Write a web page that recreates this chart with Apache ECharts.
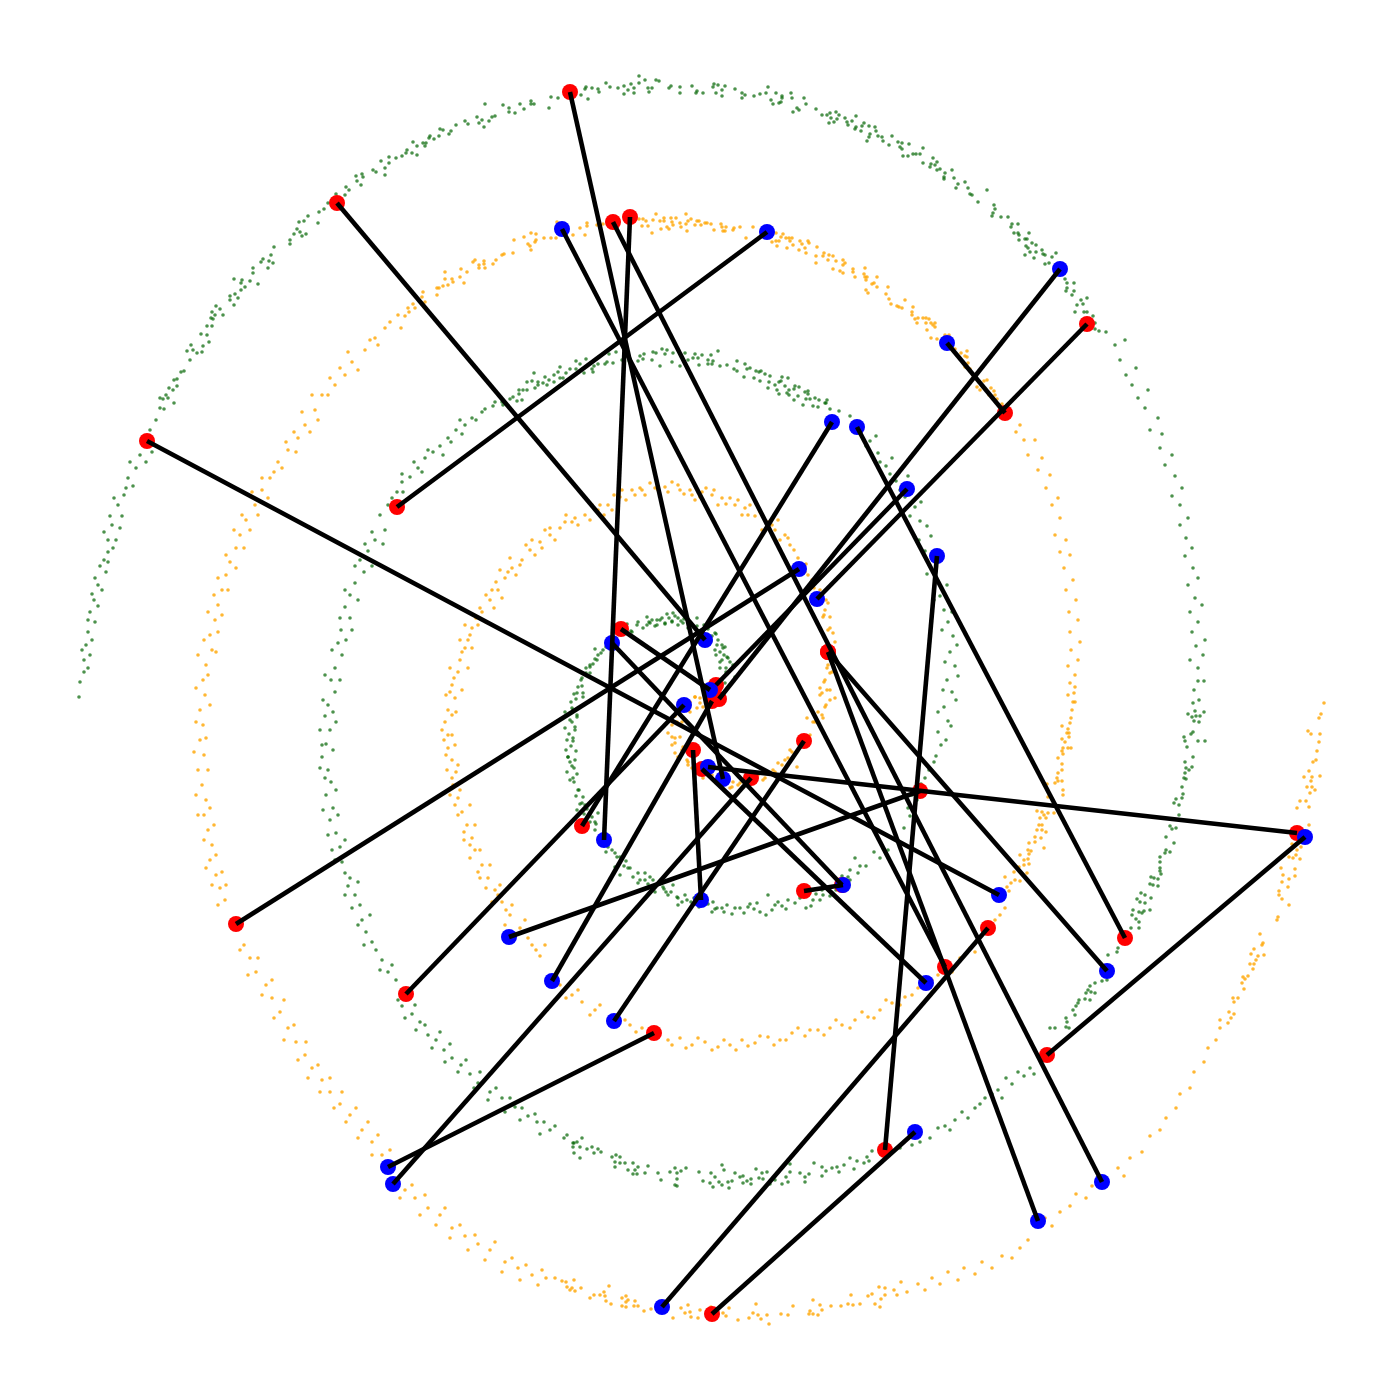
<!DOCTYPE html>
<html>
<head>
<meta charset="utf-8">
<title>spirals</title>
<script src="https://cdn.jsdelivr.net/npm/echarts@6/dist/echarts.min.js"></script>
<style>
  html, body { margin: 0; padding: 0; background: #fff; }
  #chart { width: 1400px; height: 1400px; }
</style>
</head>
<body>
<div id="chart"></div>
<script>
// values, in picture units (0-1400 on both axes)
const greenInner = [
  [715,690],[722,680],[726,672],[720,662],[716,655],[727,657],[723,648],[717,645],[711,641],[716,634],[708,629],[701,631],[697,626],[690,623],[684,619],[678,625],[672,621],[665,624],[660,620],[655,626],[649,622],[643,628],[637,625],[631,631],[627,624],
  [616,638],[606,647],[601,653],[595,659],[590,667],[586,673],[581,680],[578,687],[583,693],[576,699],[572,708],[577,715],[570,720],[575,727],[569,734],[573,741],[576,751],[568,757],[572,766],[577,774],[574,782],[579,790],[583,797],[580,804],[587,809],[592,817],[596,824],[606,834],
  [612,850],[617,857],[626,861],[630,868],[638,873],[645,880],[650,877],[656,885],[664,889],[671,892],[678,898],[685,895],[691,902],[699,907],[708,904],[715,909],[724,912],[735,908],[744,913],[754,909],[766,915],[775,905],[786,909],[795,903],[811,906],[820,900],[830,896],[836,890],[850,880],[858,873],[866,866],[880,858],[888,850],[896,840],[904,828],[910,816],
  [638,622],[647,617],[657,620],[667,614],[673,613],[678,618],[647,625],[650,623],[657,625],[665,623],[672,622],[683,623],[688,628],[697,618],[715,633],[722,645],[715,650],[720,652],[725,647],[728,658],[722,660],[720,668],[733,665],[735,677],[725,683],[632,632],[603,650],[595,649],[597,660],[590,665],[590,673],[582,678],[577,693],[583,697],[573,710],[565,712],[577,717],[575,730],[567,740],[573,738],[568,757],[575,760],[567,772],[573,778],[578,790],[582,803],[585,805],[577,810],[598,813],[595,822],[595,830],[608,847],[615,853],[620,857],[615,867],[628,868],[620,875],[633,877],[645,873],[638,883],[653,880],[663,887],[673,885],[655,892],[668,895],[677,897],[687,900],[678,905],[713,902],[727,905],[717,908],[740,908],[748,907],[757,903],[768,895],[778,902],[788,900],[822,890],[813,900],[823,895],[837,880],[850,870],[855,858],[848,877],
  [652,620],[662,618],[669,618],[675,616],[681,621],[692,625],[704,625],[712,636],[718,640],[724,655],[730,662],[726,668],[610,642],[598,655],[593,664],[586,668],[582,686],[574,694],[571,702],[567,715],[572,722],[565,728],[571,746],[566,750],[570,762],[574,768],[570,780],[576,796],[584,814],[590,822],[600,840],[606,852],[624,866],[640,880],[648,884],[660,884],[666,892],[682,902],[694,898],[705,900],[712,912],[722,908],[732,914],[750,904],[760,912],[772,910],[782,906],[800,898],[806,908],[816,894],[828,888],[842,876],[860,866],[874,852]
];
const greenMiddle = [
  [908,808],[917,800],[921,784],[929,770],[936,756],[941,745],[938,732],[948,721],[944,707],[952,692],[947,680],[955,666],[950,652],[953,636],[948,622],[944,610],[940,596],[935,580],[930,566],[925,551],[931,536],[920,521],[915,507],[905,497],[896,481],[886,466],[878,453],[870,441],[861,427],[850,416],[839,411],[826,403],[815,398],[805,392],[795,386],[781,381],[770,376],[759,372],
  [912,795],[925,778],[934,762],[946,740],[951,726],[938,712],[956,700],[943,690],[958,676],[945,662],[957,645],[942,630],[952,612],[934,600],[947,585],[927,574],[937,556],[919,540],[927,526],[910,516],[921,502],[900,490],[908,476],[890,474],[880,462],[892,458],[866,446],[876,436],
  [750,368],[756,371],[761,371],[765,374],[754,378],[760,381],[769,382],[775,385],[782,377],[788,378],[779,382],[785,386],[768,388],[777,390],[789,390],[794,389],[799,387],[808,391],[779,394],[787,393],[789,395],[798,396],[808,394],[794,400],[806,399],[810,399],[819,400],[827,400],[825,403],[803,405],[813,406],[818,407],[830,409],
  [718,351],[653,352],[662,349],[667,350],[656,353],[644,354],[640,356],[665,354],[673,353],[685,353],[695,354],[702,355],[711,355],[688,360],[693,358],[698,358],[708,360],[713,361],[699,365],[708,364],[712,364],[720,366],[727,365],[737,361],[745,364],[734,369],[737,371],[747,369],[744,377],[680,366],[672,362],[660,366],[652,360],[643,359],[638,361],[629,361],[622,360],[616,352],[609,354],[613,363],[607,362],[605,364],[598,364],[594,366],[586,359],[592,369],[593,372],[584,373],[576,361],[580,364],[576,369],[570,369],[566,373],[560,367],[554,375],[558,372],[534,373],[545,377],[549,380],[560,378],[563,378],[554,382],[527,382],[532,381],[538,382],[543,383],[547,385],[538,385],[535,388],[527,390],[523,390],[519,390],[519,394],[513,397],[510,399],[517,401],[522,400],[495,402],[502,402],[503,405],[493,406],[508,406],[485,409],
  [482,412],[472,418],[465,425],[456,430],[448,438],[440,446],[433,452],[425,458],[418,468],[410,477],[402,482],[397,492],[388,505],[380,515],[385,530],[375,540],[368,551],[360,560],[364,572],[355,583],[350,595],[345,607],[350,618],[341,630],[338,643],[342,655],[335,668],[331,680],[335,692],[328,705],[325,716],[330,730],[326,744],[322,757],[328,770],[331,782],[326,795],[333,808],[330,820],[336,833],[340,847],[335,860],[345,873],[348,886],[355,895],[352,908],[362,920],[366,932],[372,942],[382,960],[388,972],[396,980],[402,1006],[412,1014],[420,1022],[428,1035],[436,1040],[444,1050],[452,1058],[461,1065],[470,1074],[478,1083],[490,1092],[502,1098],[515,1107],[528,1116],[537,1122],[550,1130],
  [476,420],[460,420],[451,442],[462,434],[443,455],[428,450],[422,472],[414,462],[402,474],[392,498],[403,492],[372,532],[383,544],[365,544],[372,566],[355,566],[345,590],[358,600],[352,630],[340,618],[332,650],[346,640],[325,675],[340,680],[323,700],[333,712],[320,730],[336,722],[322,745],[333,750],[325,778],[320,768],[336,790],[323,810],[338,815],[328,835],[345,840],[332,850],[342,862],[350,878],[358,882],[345,895],[360,905],[370,915],[358,925],[376,950],[364,945],[380,970],[392,965],[398,1000],[415,1005],[405,1018],[425,1025],[416,1030],[440,1032],[432,1048],[450,1044],[445,1062],[466,1060],[458,1072],[480,1072],[474,1088],[496,1088],[488,1100],[510,1098],[505,1112],[522,1108],[520,1120],[535,1114],[544,1122],[540,1134],[555,1126],
  [574,1143],[567,1135],[564,1138],[573,1143],[577,1142],[582,1138],[573,1147],[580,1147],[574,1153],[580,1158],[587,1149],[592,1147],[594,1153],[598,1149],[601,1152],[612,1157],[616,1155],[620,1157],[615,1162],[620,1163],[615,1167],[625,1163],[628,1170],[633,1163],[635,1170],[633,1174],[637,1174],[638,1167],[645,1173],[648,1166],[658,1173],[661,1180],[670,1172],[675,1168],[677,1173],[677,1179],[675,1185],[677,1186],[681,1171],[686,1168],[699,1172],[703,1181],[711,1173],[710,1183],[713,1187],[715,1177],[719,1182],[722,1165],[724,1170],[722,1185],[729,1188],[728,1182],[732,1181],[735,1173],[740,1177],[743,1176],[743,1183],[747,1181],[751,1179],[751,1184],[756,1169],[759,1178],[762,1173],[767,1172],[763,1179],[770,1184],[775,1180],[782,1184],[786,1177],[790,1164],[790,1172],[788,1182],[800,1173],[805,1177],[809,1174],[805,1182],[814,1163],[822,1167],[826,1171],[822,1176],[832,1168],[837,1167],[839,1172],[844,1165],[850,1158],[854,1169],[857,1161],[864,1163],[867,1157],[869,1161],[872,1151]
];
const greenOuter = [
  [900,1148],[912,1145],[930,1138],[945,1126],[955,1120],[975,1108],[985,1098],[998,1090],[1006,1078],[1018,1072],[1030,1068],[1040,1058],[920,1142],[938,1128],[950,1130],[962,1112],[968,1118],[980,1104],[992,1094],[1002,1098],[1012,1084],[1024,1076],[1034,1074],[1044,1050],
  [1050,1028],[1055,1028],[1066,1027],[1069,1028],[1066,1018],[1067,1022],[1073,1010],[1075,1015],[1076,1006],[1078,1003],[1079,1000],[1085,999],[1090,1000],[1086,993],[1091,992],[1095,993],[1088,990],[1090,986],[1095,983],[1102,981],[1107,980],[1108,955],[1117,952],[1118,948],[1131,928],[1139,928],[1139,922],[1136,919],[1132,915],[1142,913],[1139,912],[1144,911],[1133,910],[1150,910],[1145,903],[1140,902],[1137,899],[1151,898],[1145,895],[1141,893],[1158,886],[1153,885],[1150,884],[1158,879],[1154,878],[1151,877],[1161,874],[1160,871],[1160,868],[1160,862],[1160,857],[1165,853],[1170,852],[1166,850],[1174,843],[1166,837],[1176,828],[1172,829],[1170,826],[1179,815],[1179,805],[1174,803],[1176,799],[1182,798],[1183,794],[1182,787],[1186,779],[1184,778],[1185,773],[1189,770],[1186,768],[1192,767],[1185,762],[1193,757],[1187,747],[1205,741],[1198,741],[1185,741],[1184,737],[1191,734],[1193,732],[1199,722],[1194,721],[1192,717],[1200,716],[1196,716],[1188,714],[1204,712],[1195,711],[1193,703],[1199,700],[1194,690],[1204,681],[1198,681],
  [1198,668],[1190,660],[1203,655],[1196,646],[1205,640],[1192,632],[1198,622],[1190,612],[1202,605],[1195,598],[1188,585],[1198,578],[1193,568],[1185,556],[1192,548],[1186,538],[1180,525],[1188,518],[1180,505],[1172,496],[1182,488],[1175,476],[1165,465],[1172,455],[1160,448],[1162,434],[1150,430],[1158,418],[1145,408],[1138,398],[1148,390],[1132,385],[1126,375],[1136,368],[1120,360],[1115,345],[1125,340],[1106,332],[1099,331],[1095,329],[1095,323],[1093,316],[1087,312],[1084,312],[1075,312],[1077,305],[1083,304],[1081,300],[1087,298],[1072,295],[1066,291],[1074,291],[1067,288],[1074,283],[1067,283],[1065,279],
  [1049,263],[1045,264],[1052,257],[1056,253],[1045,255],[1043,254],[1034,258],[1025,255],[1042,250],[1036,252],[1030,252],[1028,248],[1036,245],[1026,246],[1032,243],[1027,239],[1025,239],[1019,240],[1019,235],[1029,233],[1018,233],[1014,233],[1011,227],[1012,224],[1018,224],[1008,217],[1001,217],[992,216],[993,213],[995,209],[994,205],[978,202],[972,195],[970,194],[987,190],[968,188],[956,188],[958,184],[965,182],[954,178],[944,179],[944,177],[952,170],[945,173],[940,169],[937,170],[930,167],[935,165],[937,162],[931,164],[923,163],[933,158],[920,154],[916,154],[913,154],[908,156],[903,156],[923,148],[902,149],[900,147],[909,144],[902,143],[898,142],[889,145],[883,141],[892,136],[867,141],[869,137],[882,137],[878,136],[876,131],[870,134],[875,127],[869,126],[861,131],[855,129],[856,127],[848,125],[864,123],[862,126],[852,121],[847,122],[856,116],[845,118],[829,123],[834,122],[831,118],[837,119],[839,115],[836,112],[830,113],[827,115],[822,115],[816,109],[799,110],[797,108],[793,112],[806,104],[804,98],[792,98],[791,93],[782,98],[782,96],[781,102],[779,103],[773,104],[771,100],[776,93],[766,93],[760,94],[754,96],[768,87],
  [745,95],[742,98],[742,93],[735,89],[722,96],[716,93],[722,90],[713,87],[725,86],[718,85],[714,84],[703,93],[696,93],[697,91],[692,86],[680,93],[680,87],[669,88],[671,86],[649,92],[634,93],[624,94],[628,90],[652,88],[648,88],[634,88],[618,88],[610,87],[624,86],[639,83],[631,84],[606,83],[659,81],[656,80],[645,80],[639,76],[599,92],[598,89],[592,88],[586,87],[585,89],[581,95],[588,99],[558,98],[551,97],[549,108],[534,104],[531,104],[531,101],[524,109],[520,104],[515,113],[509,112],[509,108],[503,105],[495,116],[492,117],[489,121],[485,104],[484,127],[482,120],[479,123],[477,117],[468,124],[465,121],[456,125],[451,131],[449,134],[443,130],[440,129],[439,136],[434,139],[430,136],[429,138],[426,143],[423,143],[425,146],[417,146],[413,142],[417,155],[412,153],[407,150],[406,153],[402,156],
  [396,158],[389,157],[389,163],[381,161],[385,168],[373,170],[376,172],[385,175],[362,174],[356,176],[363,177],[357,181],[361,185],[346,187],[349,190],[345,195],[336,194],[328,203],[324,209],[319,212],[308,216],[304,221],[299,222],[318,223],[297,229],[294,234],[300,232],[306,234],[302,236],[290,240],[290,244],[274,247],[271,255],[263,259],[261,262],[269,261],[273,263],[268,268],[253,268],[253,273],[234,279],[242,280],[250,281],[241,283],[258,284],[245,287],[241,290],[235,294],[230,296],[238,298],[230,300],[234,305],[216,306],[220,309],[212,312],[223,315],[215,315],[211,318],[213,319],[207,326],[212,326],[201,334],[207,335],[209,342],[191,345],[203,346],[193,350],[187,351],[197,353],[202,352],[190,360],[184,371],[181,372],[177,379],[174,380],[177,386],[169,388],[173,390],[166,395],[160,398],[168,398],[163,399],[174,403],[160,408],[164,409],
  [156,420],[150,430],[152,452],[140,455],[136,468],[128,478],[133,486],[124,495],[118,505],[122,516],[112,525],[108,540],[113,548],[104,560],[106,572],[98,585],[94,600],[90,612],[95,622],[88,632],[86,645],[84,660],[88,668],[80,682],[79,697],[146,462],[130,462],[126,488],[114,498],[110,516],[120,528],[104,532],[116,540],[108,552],[100,566],[108,562],[95,578],[102,590],[92,594],[98,606],[88,620],[92,640],[82,650],[90,655],[84,672]
];
const orangeInner = [
  [715,698],[708,700],[700,703],[695,697],[688,702],[690,712],[680,708],[675,716],[682,722],[672,725],[668,733],[675,738],[672,745],[682,750],[678,757],[688,762],[692,768],[700,772],[712,775],[722,782],[730,788],[738,785],[745,782],[758,775],[765,778],[775,772],[782,765],[788,758],[792,752],[800,745],[810,735],[815,722],[822,715],[826,705],[820,695],[830,690],[824,682],[832,672],[828,665],[826,640],[830,628],[824,615],[826,600],
  [695,697],[700,698],[690,702],[703,707],[697,708],[688,710],[677,722],[672,737],[680,737],[675,743],[683,747],[675,753],[687,760],[688,765],[697,767],[703,778],[733,782],[740,783],[732,787],[763,780],[773,770],[778,763],[785,760],[790,750],[797,767],[807,718],[813,722],[823,718],[818,712],[825,707],[830,700],[822,693],[835,698],[827,690],[820,688],[825,680],[830,673],[827,668],[833,633],[828,630],[835,642],[823,617],[830,617],[825,610],[828,603],
  [820,590],[812,580],[805,572],[798,558],[790,545],[785,535],[775,530],[768,522],[755,516],[745,508],[735,505],[722,498],[712,495],[700,497],[690,490],[678,485],[668,492],[655,488],[645,495],[632,490],[620,497],[608,505],[598,510],[585,515],[572,522],[560,528],[550,535],[540,542],[530,550],[522,560],[512,568],[505,578],[498,590],[490,600],[482,612],[478,625],[470,635],[465,648],[460,660],[458,672],[452,685],[455,698],[448,710],[445,722],[452,735],[448,748],[452,760],[456,772],[453,785],[458,798],[462,812],[467,825],[472,838],[475,850],[482,865],[488,878],[495,890],[502,902],[510,915],[520,928],[532,945],[540,956],
  [814,588],[806,564],[794,550],[780,540],[778,520],[762,530],[750,505],[742,515],[730,498],[718,505],[706,488],[695,500],[684,494],[672,482],[660,496],[650,483],[640,488],[626,500],[614,495],[604,515],[592,505],[578,525],[566,515],[555,540],[545,530],[535,555],[526,545],[516,575],[510,558],[500,570],[492,590],[502,598],[486,595],[476,618],[486,622],[465,625],[472,648],[460,640],[468,668],[450,668],[462,690],[446,695],[456,712],[442,730],[455,745],[444,740],[458,765],[447,770],[460,790],[450,795],[470,805],[458,815],[475,825],[464,840],[480,850],[470,858],[490,865],[480,878],[500,885],[492,902],[512,905],[505,925],[525,920],[528,938],[545,945],
  [816,600],[808,575],[800,565],[788,538],[772,525],[760,512],[748,515],[738,500],[726,504],[714,490],[702,492],[692,495],[680,490],[665,487],[658,490],[642,490],[635,495],[622,490],[612,510],[600,505],[590,520],[575,518],[565,522],[550,528],[542,548],[532,540],[520,565],[508,572],[496,582],[494,608],[480,608],[472,628],[468,640],[462,652],[454,678],[450,692],[452,715],[448,735],[446,755],[452,778],[455,805],[464,832],[470,845],[478,872],[486,888],[498,895],[506,910],[515,935],[536,950],
  [560,985],[572,995],[582,1002],[595,1010],[630,1025],[642,1028],[668,1040],[680,1038],[692,1045],[705,1042],[718,1047],[730,1045],[742,1040],[755,1043],[768,1037],[780,1040],[792,1033],[805,1036],[818,1030],[830,1028],[842,1025],[855,1020],[868,1017],[880,1010],[892,1003],[905,997],[918,988],[932,980],[960,958],[970,948],[978,938],[995,920],[1005,908],
  [566,998],[578,990],[590,1015],[600,1005],[625,1020],[636,1032],[650,1030],[672,1045],[686,1048],[698,1038],[712,1050],[724,1040],[736,1050],[748,1046],[760,1036],[774,1045],[786,1040],[798,1028],[810,1030],[824,1035],[836,1020],[850,1028],[862,1012],[874,1018],[886,1000],[900,1005],[912,995],[925,985],[938,975],[952,972],[965,955],[975,952],[985,932],[1000,915],
  [1009,891],[1007,887],[1011,883],[1020,881],[1015,880],[1005,877],[1027,873],[1014,872],[1019,867],[1024,865],[1029,864],[1028,859],[1024,860],[1029,854],[1020,855],[1031,851],[1028,850],[1044,848],[1029,843],[1035,842],[1041,838],[1035,837],[1046,832],[1042,830],[1037,830],[1042,825],[1039,825],[1046,818],[1040,818],[1044,815],[1048,813],[1042,812],[1037,811],[1054,813],[1052,799],[1048,797],[1063,795],[1063,790],[1047,784],[1055,783],[1058,781],[1062,781],[1057,778],[1058,773],[1062,770],[1062,764],[1058,758],[1063,754],[1062,751],[1071,748],[1068,748],[1063,748],[1065,742],[1069,737],[1062,739],[1069,733],[1067,733],[1068,729],[1070,723],[1062,726],[1071,718],[1072,710],[1075,702],[1073,702],[1068,695],[1074,693],[1075,687],[1070,683],
  [1075,675],[1068,666],[1078,660],[1071,650],[1080,642],[1070,632],[1078,620],[1069,612],[1076,600],[1066,590],[1073,580],[1064,568],[1070,555],[1060,552],[1066,540],[1055,535],[1060,518],[1052,505],[1058,498],[1046,488],[1050,475],[1038,470],[1042,458],[1028,455],[1035,440],[1024,440],[1020,425],[1016,432],[1002,404],[997,399],[995,395],[989,395],[994,391],[991,388],[980,390],[977,387],[987,380],[984,381],[973,375],[970,369],[965,367],[968,363],[967,357],[965,356],[961,353],[967,351],[955,349],[949,335],[945,335],[937,339],[931,338],[927,330],[935,327],[935,323],[933,325],[931,323],[926,323],[917,323],[929,319],[926,318],[923,318],[918,318],[915,319],[912,315],[912,312],[913,307],[902,308],[899,307],[897,306],[891,304],[905,300],[889,299],[886,294],[868,293],[866,290],[888,287],[877,287],[872,284],[874,283],[866,280],[877,277],[867,277],[865,277],[855,277],[864,274],[853,272],[843,273],[840,271],[833,269],[853,269],[865,268],[843,265],[845,263],[843,260],[836,261],[816,263],[828,260],[833,256],[829,255],[823,256],[824,253],[816,256],[817,247],[806,253],[799,250],[805,248],[809,243],[808,241],[802,244],[800,241],[793,245],[787,248],[777,246],[792,238],[790,241],[789,238],[786,238],[781,237],[783,234],[779,241],[776,241],[772,242],[776,233],[753,227],
  [746,238],[740,227],[734,228],[733,230],[726,227],[725,231],[723,231],[722,227],[721,224],[714,230],[711,224],[707,223],[705,223],[701,225],[699,221],[697,221],[695,225],[691,219],[688,221],[687,231],[686,224],[686,214],[681,227],[680,223],[676,218],[673,225],[672,222],[671,218],[669,229],[667,227],[664,221],[664,218],[661,229],[660,221],[656,214],[653,220],[652,233],[648,226],[646,221],[643,219],[642,226],[639,219],[603,224],[597,225],[587,226],[587,223],[585,235],[580,228],[573,235],[557,222],[556,238],[551,238],[544,238],[536,240],[536,234],[535,242],[531,250],[531,233],[530,246],[528,244],[524,237],[514,240],[513,253],[504,254],[502,255],[496,260],[493,264],[485,268],[484,264],[484,261],[479,268],[479,265],[475,260],[473,262],[467,272],[464,283],[461,269],[460,277],[453,282],[452,279],[448,285],[445,279],[445,272],[443,286],[439,288],[437,295],[437,288],[425,302],[423,292],[422,297],[415,308],[413,304],[409,312],[408,308],[405,316],[401,328],
  [398,315],[385,328],[375,338],[365,350],[352,362],[345,375],[335,385],[322,395],[315,410],[305,425],[298,438],[288,450],[278,462],[270,478],[262,490],[255,505],[246,520],[240,535],[236,548],[230,562],[226,575],[222,590],[218,605],[215,620],[210,635],[212,650],[206,665],[203,680],[205,695],[200,710],[203,725],[200,740],[204,755],[198,770],[202,785],[206,800],[204,815],[208,830],[212,845],[210,860],[216,875],[220,888],[225,900],
  [390,322],[378,345],[370,340],[358,370],[348,352],[340,368],[328,395],[330,378],[312,395],[318,420],[302,412],[310,432],[294,432],[296,452],[282,468],[286,442],[274,472],[262,478],[268,498],[252,492],[258,515],[242,515],[250,530],[234,530],[244,548],[226,555],[236,568],[218,578],[228,590],[214,595],[222,615],[208,612],[218,632],[204,640],[216,652],[198,655],[208,675],[196,688],[210,705],[196,722],[206,738],[194,752],[208,770],[196,795],[210,808],[198,815],[214,825],[204,840],[216,855],[206,868],[222,872],[212,885],[226,885],[218,905],
  [244,945],[250,958],[256,972],[266,985],[272,998],[280,1012],[288,1028],[296,1042],[305,1055],[312,1068],[322,1080],[330,1092],[340,1104],[350,1115],[362,1130],[372,1142],[382,1155],[405,1190],[415,1198],[428,1208],[440,1215],[452,1228],[465,1236],[478,1244],[490,1250],[505,1262],[518,1268],[532,1275],[546,1278],
  [240,950],[258,958],[248,975],[272,980],[262,995],[284,1000],[274,1018],[294,1025],[284,1040],[306,1042],[298,1060],[318,1065],[308,1078],[330,1078],[320,1092],[342,1092],[334,1108],[356,1108],[346,1122],[368,1122],[358,1138],[378,1135],[372,1155],[390,1150],[412,1185],[400,1198],[425,1195],[420,1215],[445,1208],[436,1225],[460,1225],[450,1238],[475,1235],[468,1250],[495,1242],[485,1260],[512,1258],[502,1272],[526,1265],[520,1280],[542,1270],[538,1285],[555,1278]
];
const orangeOuter = [
  [562,1281],[566,1282],[574,1280],[567,1287],[572,1288],[570,1290],[575,1291],[581,1288],[590,1298],[594,1295],[600,1295],[604,1292],[609,1286],[605,1296],[606,1301],[611,1304],[622,1298],[626,1296],[628,1300],[626,1302],[622,1306],[626,1307],[635,1301],[634,1306],[638,1306],[644,1311],[651,1309],[673,1318],[681,1308],[688,1305],[685,1313],[690,1312],[691,1317],[698,1318],[700,1310],[711,1307],[723,1313],[726,1316],[729,1308],[738,1320],[749,1318],[756,1304],[753,1313],[758,1315],[761,1319],[767,1315],[769,1324],[781,1314],[788,1315],[793,1306],[809,1314],[810,1311],[813,1300],[813,1314],[820,1305],[818,1315],[822,1310],[831,1306],[841,1306],[848,1304],[851,1295],[853,1305],[860,1304],[868,1296],[872,1294],[875,1304],[879,1287],[880,1307],[881,1299],[885,1288],[885,1295],[894,1290],[897,1295],[901,1282],[907,1292],
  [918,1284],[925,1290],[932,1278],[940,1284],[948,1272],[958,1280],[964,1268],[975,1274],[982,1262],[992,1268],[1002,1256],[1012,1258],[1020,1248],[1028,1240],[1045,1218],[1052,1226],[1060,1212],[1070,1206],[1076,1194],[1086,1198],[1092,1186],[1118,1168],[1124,1176],[1130,1158],[1142,1152],[1150,1136],[1160,1130],[1166,1118],[1176,1108],[1180,1094],[1190,1088],[1194,1072],[1204,1062],[1208,1048],[1216,1040],
  [1220,1028],[1228,1023],[1220,1020],[1231,1018],[1234,1014],[1229,1012],[1234,1002],[1238,998],[1233,998],[1244,989],[1242,983],[1245,979],[1248,976],[1243,977],[1253,969],[1254,964],[1250,964],[1256,960],[1264,955],[1258,956],[1251,954],[1254,949],[1263,943],[1262,945],[1260,934],[1277,920],[1278,917],[1289,905],[1282,899],[1279,895],[1279,891],[1288,887],[1282,882],[1295,876],[1289,879],[1283,875],[1295,869],[1281,868],[1300,859],[1296,855],[1293,858],[1289,857],[1297,850],[1301,847],[1292,844],[1309,825],[1297,808],[1309,807],[1300,801],[1306,801],[1310,793],[1315,790],[1312,787],[1307,787],[1311,781],[1320,776],[1312,777],[1304,777],[1309,771],[1313,762],[1316,760],[1317,751],[1319,742],[1320,734],[1311,734],[1308,731],[1319,718],[1321,714],[1324,703]
];
// red and blue ends of each black segment, same index = same segment
const redEnds = [
  [570,92],[337,203],[147,441],[613,222],[630,217],[397,507],[719,699],[1087,324],[1005,413],[582,826],[1125,938],[885,1150],[236,924],[842,885],[621,629],
  [406,994],[716,685],[712,701],[693,750],[702,769],[751,778],[804,741],[920,791],[804,891],[988,928],[654,1033],[1047,1055],[712,1314],[828,652],[828,652],[945,967],[1297,833]
];
const blueEnds = [
  [723,779],[705,640],[999,895],[1102,1182],[604,840],[767,232],[1060,269],[817,599],[947,343],[832,422],[857,427],[937,556],[799,569],[612,643],[710,690],
  [684,705],[907,489],[552,981],[701,900],[926,983],[393,1184],[614,1021],[509,937],[843,885],[662,1307],[388,1167],[1305,837],[915,1132],[1107,971],[1038,1221],[562,229],[708,767]
];

const chart = echarts.init(document.getElementById('chart'));

const greenDots = greenInner.concat(greenMiddle, greenOuter);
const orangeDots = orangeInner.concat(orangeOuter);
const segments = redEnds.map(function (r, i) {
  return { coords: [r, blueEnds[i]] };
});

chart.setOption({
  animation: false,
  backgroundColor: '#fff',
  grid: { left: 0, right: 0, top: 0, bottom: 0 },
  xAxis: { type: 'value', min: 0, max: 1400, show: false },
  yAxis: { type: 'value', min: 0, max: 1400, inverse: true, show: false },
  series: [
    {
      name: 'green spiral',
      type: 'scatter',
      data: greenDots,
      symbolSize: 3.6,
      itemStyle: { color: '#006400', opacity: 0.7 },
      z: 1,
    },
    {
      name: 'orange spiral',
      type: 'scatter',
      data: orangeDots,
      symbolSize: 3.6,
      itemStyle: { color: '#ffa500', opacity: 0.8 },
      z: 1,
    },
    {
      name: 'red ends',
      type: 'scatter',
      data: redEnds,
      symbolSize: 16,
      itemStyle: { color: '#ff0000', opacity: 1 },
      z: 2,
    },
    {
      name: 'blue ends',
      type: 'scatter',
      data: blueEnds,
      symbolSize: 16,
      itemStyle: { color: '#0000ff', opacity: 1 },
      z: 3,
    },
    {
      name: 'links',
      type: 'lines',
      coordinateSystem: 'cartesian2d',
      data: segments,
      lineStyle: { color: '#000', width: 4.6, opacity: 1, cap: 'butt' },
      z: 4,
    },
  ],
});
</script>
</body>
</html>
